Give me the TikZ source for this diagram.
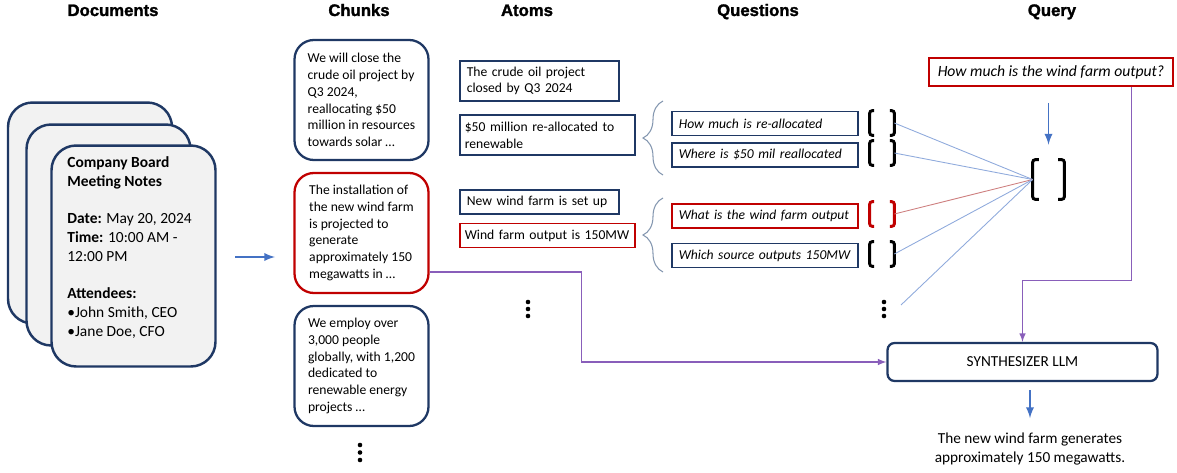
\documentclass[tikz,border=0pt]{standalone}
\usepackage{fontspec}
\setmainfont{Carlito}
\newfontfamily\headfont[BoldFont={Liberation Sans Bold}, BoldFeatures={FakeBold=1.6}]{Liberation Sans}
\usetikzlibrary{arrows,decorations.pathreplacing}
\definecolor{navy}{RGB}{31,56,100}
\definecolor{darkred}{RGB}{192,0,0}
\definecolor{flowblue}{RGB}{68,114,196}
\definecolor{pagegrey}{RGB}{242,242,242}
\definecolor{linkblue}{RGB}{143,170,220}
\definecolor{linkred}{RGB}{205,125,125}
\definecolor{bracegrey}{RGB}{132,151,176}
\definecolor{feedpurple}{RGB}{137,94,186}

% brackets round an embedding node: name, colour, hook length
\newcommand{\vecmark}[3]{%
  \draw[vec,#2] ([xshift=#3]#1.north west) -- (#1.north west) -- (#1.south west) -- ([xshift=#3]#1.south west);
  \draw[vec,#2] ([xshift=-#3]#1.north east) -- (#1.north east) -- (#1.south east) -- ([xshift=-#3]#1.south east);}

\begin{document}
\begin{tikzpicture}[x=0.02cm,y=-0.02cm]
	\tikzstyle{header}=[font=\headfont\bfseries\fontsize{9.5}{11}\selectfont, anchor=base]
	\tikzstyle{page}=[draw=navy, fill=pagegrey, line width=1.4pt, rounded corners=14pt, minimum width=3.28cm, minimum height=4.42cm]
	\tikzstyle{notes}=[align=left, inner sep=0pt, anchor=north west, font=\fontsize{8.8}{10.7}\selectfont]
	\tikzstyle{chunk}=[draw=navy, line width=1.3pt, rounded corners=11pt, minimum width=2.68cm, minimum height=2.4cm, align=left, font=\fontsize{7.75}{9.5}\selectfont]
	\tikzstyle{atom}=[draw=navy, line width=0.9pt, anchor=west, align=left, inner xsep=0.14cm, font=\fontsize{7.75}{9.5}\selectfont]
	\tikzstyle{question}=[atom, text width=3.44cm, minimum height=0.48cm, font=\itshape\fontsize{7.75}{9.5}\selectfont]
	\tikzstyle{vec}=[line width=1.7pt, rounded corners=1.5pt]
	\tikzstyle{vecbox}=[minimum width=0.48cm, minimum height=0.48cm, inner sep=0pt]
	\tikzstyle{brace}=[draw=bracegrey, line width=0.6pt, decorate, decoration={brace, amplitude=0.4cm}]
	\tikzstyle{link}=[draw=linkblue, line width=0.5pt]
	\tikzstyle{flow}=[draw=flowblue, line width=1.1pt, -latex]
	\tikzstyle{feed}=[draw=feedpurple, line width=0.7pt, -latex]
	
	\useasboundingbox (0,0) rectangle (1177,473);
	
	\node[header] (hdoc) at (113,16) {Documents};
	\node[header] (hchunk) at (359,16) {Chunks};
	\node[header] (hatom) at (527,16) {Atoms};
	\node[header] (hquest) at (758,16) {Questions};
	\node[header] (hquery) at (1052,16) {Query};
	
	\node[page] (d1) at (90,213) {};
	\node[page] (d2) at (108.5,235) {};
	\node[page] (d3) at (133.5,256) {};
	\node[notes] (minutes) at (67,156) {\textbf{Company Board}\\\textbf{Meeting Notes}\\[10.7pt]
		\textbf{Date:} May 20, 2024\\\textbf{Time:} 10:00 AM -\\12:00 PM\\[10.7pt]
		\textbf{Attendees:}\\\textbullet John Smith, CEO\\\textbullet Jane Doe, CFO};
	
	\coordinate (docout) at (235,257);
	\coordinate (chunkin) at (275,257);
	\draw[flow] (docout) -- (chunkin);
	
	\node[chunk] (c1) at (361.5,100) {We will close the\\crude oil project by\\Q3 2024,\\reallocating \$50\\million in resources\\towards solar \dots};
	\node[chunk, draw=darkred] (c2) at (361.5,233) {The installation of\\the new wind farm\\is projected to\\generate\\approximately 150\\megawatts in \dots};
	\node[chunk] (c3) at (361.5,366) {We employ over\\3,000 people\\globally, with 1,200\\dedicated to\\renewable energy\\projects \dots};
	\fill (360,445) circle (2.3) (360,452.5) circle (2.3) (360,460) circle (2.3);
	
	\node[atom, text width=2.9cm, minimum height=0.8cm] (a1) at (459,81) {The crude oil project\\closed by Q3 2024};
	\node[atom, text width=3.3cm, inner xsep=0.1cm, minimum height=0.8cm] (a2) at (459,135) {\$50 million re-allocated to\\renewable};
	\node[atom, text width=2.9cm, minimum height=0.48cm] (a3) at (459,202) {New wind farm is set up};
	\node[atom, draw=darkred, text width=3.3cm, inner xsep=0.1cm, minimum height=0.48cm] (a4) at (459,235.5) {Wind farm output is 150MW};
	\fill (528,302) circle (2.3) (528,309) circle (2.3) (528,316) circle (2.3);
	
	\coordinate (b1top) at (663,101);
	\coordinate (b1bot) at (663,175);
	\coordinate (b2top) at (663,198);
	\coordinate (b2bot) at (663,272);
	\draw[brace] (b1bot) -- (b1top);
	\draw[brace] (b2bot) -- (b2top);
	
	\node[question] (q1) at (671,123.5) {How much is re-allocated};
	\node[question] (q2) at (671,155) {Where is \$50 mil reallocated};
	\node[question, draw=darkred] (q3) at (671,216) {What is the wind farm output};
	\node[question] (q4) at (671,255.5) {Which source outputs 150MW};
	\fill (884,302) circle (2.3) (884,309) circle (2.3) (884,316) circle (2.3);
	
	\node[vecbox] (v1) at (882,123) {};
	\node[vecbox] (v2) at (882,153) {};
	\node[vecbox] (v3) at (882,214) {};
	\node[vecbox] (v4) at (882,254) {};
	\vecmark{v1}{black}{2.5pt}
	\vecmark{v2}{black}{2.5pt}
	\vecmark{v3}{darkred}{2.5pt}
	\vecmark{v4}{black}{2.5pt}
	
	\node[vecbox, minimum width=0.62cm, minimum height=0.78cm] (big) at (1048.5,179.5) {};
	\vecmark{big}{black}{3.5pt}
	\coordinate (qmore) at (901,305);
	
	\draw[link] (v1.east) -- (big.west);
	\draw[link] (v2.east) -- (big.west);
	\draw[link, draw=linkred] (v3.east) -- (big.west);
	\draw[link] (v4.east) -- (big.west);
	\draw[link] (qmore) -- (big.west);
	
	\node[draw=darkred, line width=0.9pt, minimum width=4.88cm, minimum height=0.56cm, font=\itshape\fontsize{8.9}{11}\selectfont] (query) at (1051,72) {How much is the wind farm output?};
	\draw[flow, shorten <=0.32cm, shorten >=0.3cm] (query.south -| big.north) -- (big.north);
	
	\node[draw=navy, line width=1.3pt, rounded corners=4pt, minimum width=5.4cm, minimum height=0.76cm, font=\fontsize{8.7}{10.5}\selectfont] (synth) at (1022.5,362) {SYNTHESIZER LLM};
	\draw[feed] ([xshift=-0.84cm]query.south east) |- ([yshift=1.22cm]synth.north) -- (synth.north);
	\draw[feed] ([yshift=-0.78cm]c2.east) -- ++(151.5,0) |- (synth.west);
	
	\node[align=center, inner sep=0pt, font=\fontsize{8.7}{11.3}\selectfont] (answer) at (1030,449) {The new wind farm generates\\approximately 150 megawatts.};
	\draw[flow, shorten <=0.16cm, shorten >=0.28cm] (synth.south -| answer.north) -- (answer.north);
\end{tikzpicture}
\end{document}
